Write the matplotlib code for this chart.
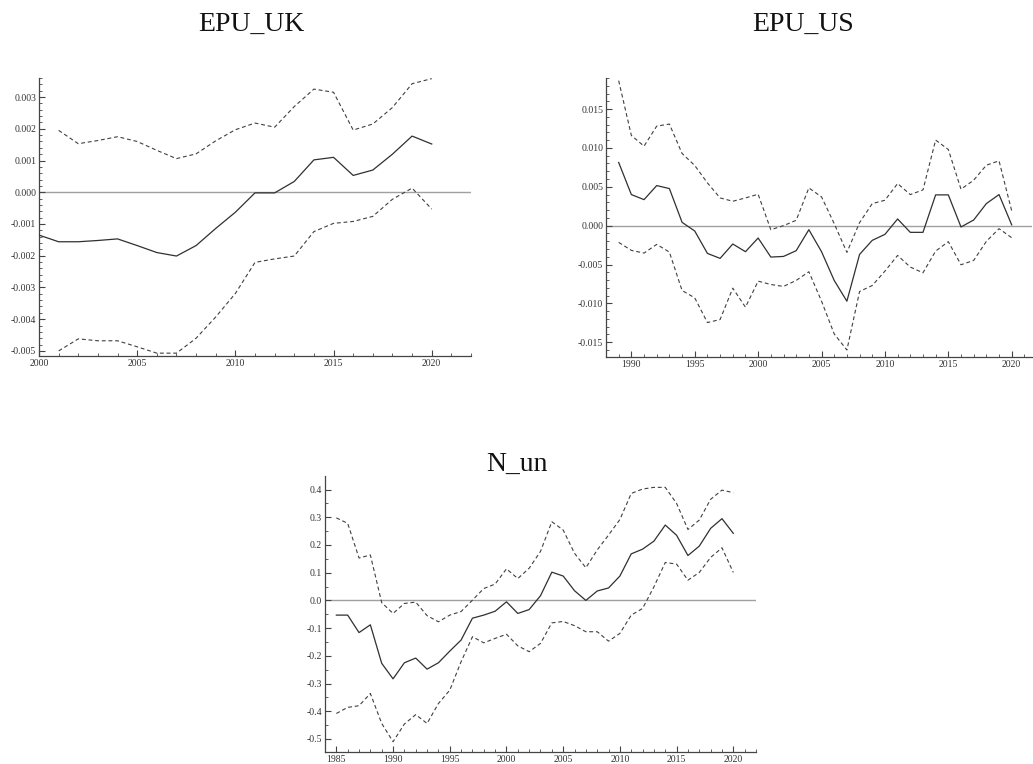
import matplotlib
matplotlib.use("Agg")
import matplotlib.pyplot as plt
from matplotlib.ticker import MultipleLocator, FormatStrFormatter

plt.rcParams['font.family'] = ['Liberation Serif', 'DejaVu Serif']

# ---- EPU_UK ----
uk_years = list(range(2000, 2021))
uk_mid = [-0.00135, -0.00156, -0.00156, -0.00152, -0.00147, -0.00168, -0.00190,
          -0.00201, -0.00168, -0.00114, -0.00063, -0.00002, -0.00002, 0.00034,
          0.00102, 0.00110, 0.00053, 0.00070, 0.00120, 0.00177, 0.00152]
uk_band_years = list(range(2001, 2021))
uk_upper = [0.00195, 0.00153, 0.00163, 0.00175, 0.00160, 0.00132, 0.00106,
            0.00121, 0.00162, 0.00197, 0.00218, 0.00205, 0.00270, 0.00325,
            0.00315, 0.00196, 0.00215, 0.00267, 0.00342, 0.00358]
uk_lower = [-0.00500, -0.00462, -0.00468, -0.00468, -0.00487, -0.00507, -0.00507,
            -0.00460, -0.00393, -0.00319, -0.00221, -0.00210, -0.00201, -0.00124,
            -0.00098, -0.00092, -0.00076, -0.00022, 0.00013, -0.00053]

# ---- EPU_US ----
us_years = list(range(1989, 2021))
us_mid = [0.00813, 0.00400, 0.00335, 0.00516, 0.00477, 0.00043, -0.00069, -0.00357,
          -0.00421, -0.00236, -0.00335, -0.00159, -0.00404, -0.00396, -0.00322,
          -0.00052, -0.00335, -0.00705, -0.00972, -0.00370, -0.00189, -0.00112,
          0.00086, -0.00086, -0.00086, 0.00396, 0.00396, -0.00017, 0.00073,
          0.00284, 0.00400, 0.00010]
us_upper = [0.01866, 0.01161, 0.01023, 0.01281, 0.01307, 0.00929, 0.00774, 0.00550,
            0.00357, 0.00314, 0.00357, 0.00404, -0.00052, 0.00000, 0.00069,
            0.00486, 0.00370, 0.00026, -0.00344, 0.00039, 0.00284, 0.00327,
            0.00542, 0.00400, 0.00460, 0.01101, 0.00980, 0.00469, 0.00585,
            0.00778, 0.00834, 0.00189]
us_lower = [-0.00215, -0.00318, -0.00353, -0.00241, -0.00340, -0.00834, -0.00929,
            -0.01247, -0.01208, -0.00804, -0.01049, -0.00714, -0.00757, -0.00782,
            -0.00705, -0.00593, -0.00972, -0.01393, -0.01600, -0.00847, -0.00770,
            -0.00585, -0.00383, -0.00533, -0.00606, -0.00327, -0.00206, -0.00503,
            -0.00447, -0.00202, -0.00039, -0.00155]

# ---- N_un ----
nu_years = list(range(1985, 2021))
nu_mid = [-0.053, -0.053, -0.116, -0.088, -0.227, -0.283, -0.225, -0.208, -0.248,
          -0.225, -0.183, -0.143, -0.064, -0.053, -0.039, -0.005, -0.047, -0.033,
          0.017, 0.102, 0.088, 0.035, 0.000, 0.034, 0.045, 0.088, 0.168, 0.185,
          0.214, 0.272, 0.235, 0.162, 0.196, 0.260, 0.295, 0.242]
nu_upper = [0.298, 0.278, 0.153, 0.164, -0.008, -0.047, -0.011, -0.006, -0.055,
            -0.077, -0.053, -0.040, 0.001, 0.043, 0.059, 0.114, 0.079, 0.116,
            0.177, 0.284, 0.254, 0.170, 0.118, 0.182, 0.236, 0.292, 0.386, 0.402,
            0.408, 0.408, 0.350, 0.256, 0.290, 0.365, 0.398, 0.389]
nu_lower = [-0.408, -0.386, -0.380, -0.336, -0.444, -0.510, -0.446, -0.412, -0.444,
            -0.372, -0.324, -0.221, -0.131, -0.153, -0.137, -0.122, -0.164, -0.185,
            -0.155, -0.081, -0.076, -0.091, -0.113, -0.113, -0.147, -0.119, -0.053,
            -0.029, 0.049, 0.137, 0.131, 0.073, 0.101, 0.155, 0.190, 0.101]

W, H = 1033, 764
fig = plt.figure(figsize=(W / 100, H / 100), dpi=100)


def make_axes(left, right, top, bottom):
    return fig.add_axes([left / W, 1 - bottom / H, (right - left) / W, (bottom - top) / H])


def style(ax, xlim, ylim, xmaj, xmin, ymaj, ymin, yfmt):
    ax.set_xlim(*xlim)
    ax.set_ylim(*ylim)
    for s in ('top', 'right'):
        ax.spines[s].set_visible(False)
    for s in ('left', 'bottom'):
        ax.spines[s].set_color('#444444')
        ax.spines[s].set_linewidth(0.9)
    ax.xaxis.set_major_locator(MultipleLocator(xmaj))
    ax.xaxis.set_minor_locator(MultipleLocator(xmin))
    ax.yaxis.set_major_locator(MultipleLocator(ymaj))
    ax.yaxis.set_minor_locator(MultipleLocator(ymin))
    ax.yaxis.set_major_formatter(FormatStrFormatter(yfmt))
    ax.xaxis.set_major_formatter(FormatStrFormatter('%d'))
    ax.tick_params(which='major', direction='in', length=4, width=0.8,
                   color='#444444', labelsize=7, labelcolor='#333333', pad=2)
    ax.tick_params(which='minor', direction='in', length=2, width=0.6,
                   color='#444444')
    ax.patch.set_alpha(0)


def draw(ax, x, mid, bx, up, lo):
    ax.axhline(0, color='#a0a0a0', lw=1.0, zorder=1)
    ax.plot(x, mid, color='#303030', lw=0.9, zorder=3)
    ax.plot(bx, up, color='#404040', lw=0.8, ls=(0, (3.5, 2.5)), zorder=2)
    ax.plot(bx, lo, color='#404040', lw=0.8, ls=(0, (3.5, 2.5)), zorder=2)


ax1 = make_axes(39, 471, 78, 356)
draw(ax1, uk_years, uk_mid, uk_band_years, uk_upper, uk_lower)
style(ax1, (2000, 2022), (-0.00516, 0.0036), 5, 1, 0.001, 0.0002, '%.3f')

ax2 = make_axes(606, 1032, 78, 357)
draw(ax2, us_years, us_mid, us_years, us_upper, us_lower)
style(ax2, (1988, 2021.6), (-0.0169, 0.0190), 5, 1, 0.005, 0.001, '%.3f')

ax3 = make_axes(325, 756, 476, 752)
draw(ax3, nu_years, nu_mid, nu_years, nu_upper, nu_lower)
style(ax3, (1984, 2022), (-0.547, 0.449), 5, 1, 0.1, 0.05, '%.1f')

title_kw = dict(ha='center', va='baseline', fontsize=20, color='#111111')
fig.text(251 / W, 1 - 31 / H, 'EPU_UK', **title_kw)
fig.text(803 / W, 1 - 31 / H, 'EPU_US', **title_kw)
fig.text(517 / W, 1 - 471 / H, 'N_un', **title_kw)

fig.savefig('out.png', dpi=100)
